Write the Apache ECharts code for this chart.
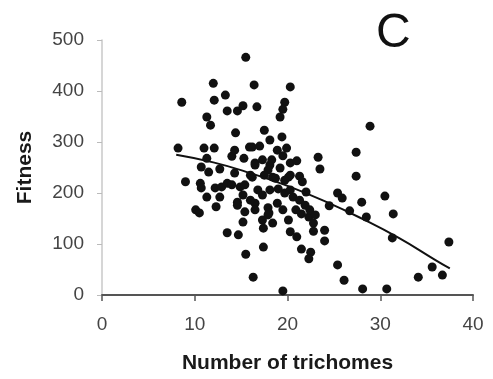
<!DOCTYPE html>
<html>
<head>
<meta charset="utf-8">
<script src="https://cdn.jsdelivr.net/npm/echarts@6/dist/echarts.min.js"></script>
<style>
  html, body { margin: 0; padding: 0; background: #fff; }
  #chart-container { width: 493px; height: 379px; }
</style>
</head>
<body>
<div id="chart-container"></div>
<script>
// trichome count vs fitness
var trichomes = [
  15.5, 8.6, 12.0, 12.1, 13.3, 13.5, 14.6, 15.2, 11.3, 11.7, 14.4, 8.2, 11.0, 12.1, 14.0, 15.3, 15.9, 10.7, 11.5, 12.7,
  14.3, 11.3, 16.4, 20.3, 16.7, 19.7, 19.5, 19.2, 17.5, 18.1, 19.4, 16.2, 17.0, 19.9, 19.5, 28.9, 27.4, 23.3, 23.5, 27.4,
  20.3, 21.0, 18.1, 16.5, 20.3, 21.3, 25.4, 25.9, 28.0, 30.5, 31.4, 28.5, 26.7, 24.5, 31.3, 37.4, 35.6, 36.7, 34.1, 30.7,
  28.1, 26.1, 25.4, 19.5, 16.3, 15.5, 17.4, 18.4, 20.1, 20.3, 21.0, 21.5, 22.5, 22.3, 21.5, 22.3, 22.8, 22.8, 24.0, 24.0,
  20.6, 18.9, 17.9, 18.0, 17.3, 17.4, 15.4, 15.2, 16.5, 15.2, 16.2, 18.4, 20.1, 21.6, 9.0, 10.6, 10.7, 11.3, 12.2, 12.9,
  13.5, 12.7, 10.1, 10.5, 12.3, 13.5, 14.7, 14.6, 14.9, 19.7, 19.0, 14.3, 16.0, 16.5, 17.3, 17.9, 18.7, 19.2, 19.7, 20.3,
  16.8, 17.3, 18.1, 16.0, 16.5, 15.4, 14.0, 17.9, 21.3, 21.9, 22.4, 23.0, 22.0, 20.9, 19.5, 17.5, 18.3, 18.9, 14.6
];
var fitness = [
  466, 378, 415, 382, 392, 361, 361, 371, 349, 333, 318, 288, 288, 288, 272, 268, 290, 251, 241, 247,
  239, 268, 412, 408, 369, 378, 364, 349, 323, 304, 310, 290, 292, 288, 273, 331, 280, 270, 247, 233,
  259, 263, 255, 259, 235, 233, 200, 190, 182, 194, 159, 153, 165, 175, 112, 104, 55, 39, 35, 12,
  12, 29, 59, 8, 35, 80, 94, 141, 147, 124, 114, 90, 84, 71, 159, 153, 141, 125, 127, 106,
  192, 180, 171, 161, 147, 131, 163, 143, 180, 196, 231, 231, 231, 222, 222, 219, 210, 192, 210, 212,
  219, 192, 167, 161, 173, 122, 118, 182, 212, 200, 208, 284, 235, 255, 265, 245, 229, 249, 225, 206,
  206, 196, 206, 186, 167, 216, 216, 157, 186, 176, 167, 157, 202, 167, 167, 235, 265, 284, 176
];

// fitted curve
var curveX = [8, 12, 16, 20, 24, 28, 32, 36, 37.5];
var curveY = [275, 260, 239, 214, 184, 150, 112, 68, 52];

var xTicks = [0, 10, 20, 30, 40];
var yTicks = [0, 100, 200, 300, 400, 500];

var points = trichomes.map(function (x, i) { return [x, fitness[i]]; });
var curve = curveX.map(function (x, i) { return [x, curveY[i]]; });

var chartDom = document.getElementById('chart-container');
var myChart = echarts.init(chartDom);

var fam = 'Liberation Sans, Arial, sans-serif';
var labelFont = {color: '#444', fontSize: 19, fontFamily: fam};
var nameFont = {color: '#1a1a1a', fontSize: 21, fontWeight: 'bold', fontFamily: fam};

var option = {
  animation: false,
  title: {
    text: 'C',
    left: 371,
    top: 5,
    textStyle: {fontSize: 48, fontWeight: 'normal', color: '#111', fontFamily: fam}
  },
  grid: {left: 102, right: 20, top: 40, bottom: 84},
  xAxis: {
    type: 'value',
    min: xTicks[0],
    max: xTicks[xTicks.length - 1],
    interval: 10,
    name: 'Number of trichomes',
    nameLocation: 'middle',
    nameGap: 58,
    nameTextStyle: nameFont,
    axisLine: {lineStyle: {color: '#555', width: 2}},
    axisTick: {show: true, length: 6, lineStyle: {color: '#555', width: 1.5}},
    axisLabel: Object.assign({margin: 20}, labelFont),
    splitLine: {show: false}
  },
  yAxis: {
    type: 'value',
    min: yTicks[0],
    max: yTicks[yTicks.length - 1],
    interval: 100,
    name: 'Fitness',
    nameLocation: 'middle',
    nameRotate: 90,
    nameGap: 66,
    nameTextStyle: nameFont,
    axisLine: {show: true, lineStyle: {color: '#c8c8c8', width: 1.5}},
    axisTick: {show: true, length: 5, lineStyle: {color: '#bbb'}},
    axisLabel: Object.assign({margin: 18}, labelFont),
    splitLine: {show: false}
  },
  series: [
    {
      type: 'scatter',
      data: points,
      symbolSize: 9,
      itemStyle: {color: '#111', opacity: 1}
    },
    {
      type: 'line',
      data: curve,
      smooth: true,
      showSymbol: false,
      lineStyle: {color: '#111', width: 2}
    }
  ]
};

option && myChart.setOption(option);
</script>
</body>
</html>
